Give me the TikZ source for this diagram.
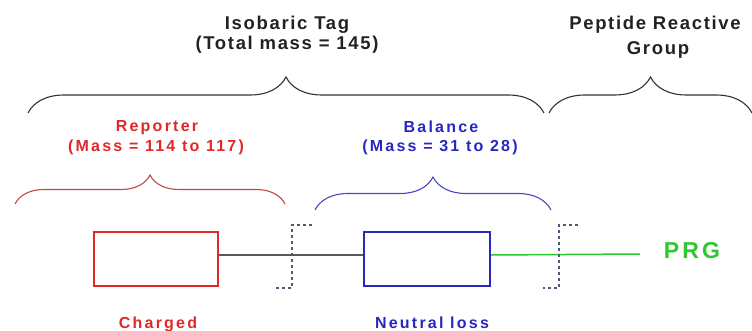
\documentclass[tikz,border=0pt]{standalone}
\usepackage{fontspec}
\setmainfont{Liberation Sans}
\newfontfamily\hdfont[LetterSpace=9]{Liberation Sans}
\newfontfamily\lblfont[LetterSpace=14]{Liberation Sans}
\usetikzlibrary{decorations.pathreplacing}
\definecolor{myred}{HTML}{E02828}
\definecolor{myblue}{HTML}{2828C0}
\definecolor{mygreen}{HTML}{2DC82D}
\definecolor{bracered}{HTML}{C04848}
\definecolor{braceblue}{HTML}{4848C0}
\definecolor{dashgray}{HTML}{505A70}
\definecolor{txtgray}{HTML}{222222}
\begin{document}
\begin{tikzpicture}[x=1pt,y=1pt,
  head/.style={font=\hdfont\bfseries\fontsize{18.5}{20}\selectfont, text=txtgray, inner sep=0},
  lbl/.style={font=\lblfont\bfseries\fontsize{16}{18}\selectfont, inner sep=0},
  cbrace/.style={decorate, decoration={brace, amplitude=#1}, line width=1.1pt},
  tagbox/.style={draw, line width=2pt, minimum height=54pt, inner sep=0, fill=white},
  cut/.style={draw=dashgray, line width=1.5pt, dash pattern=on 3pt off 3pt}]
\useasboundingbox (0,0) rectangle (752,330);

% headings
\node[head] (iso) at (287,305) {Isobaric Tag};
\node[head] (tot) at (287,285) {(Total mass = 145)};
\node[head] (pep) at (655,305) {Peptide Reactive};
\node[head] (grp) at (658,280) {Group};

% top braces
\draw[cbrace=36, black!80] (28,217) -- (544,217);
\draw[cbrace=36, black!80] (549,217) -- (752,217);

% sub labels
\node[lbl, text=myred] (rep) at (157,202) {Reporter};
\node[lbl, text=myred] (rmass) at (156,183) {(Mass = 114 to 117)};
\node[lbl, text=myblue] (bal) at (441,203) {Balance};
\node[lbl, text=myblue] (bmass) at (440,183) {(Mass = 31 to 28)};

% sub braces
\draw[cbrace=29, bracered] (15,126) -- (285,126);
\draw[cbrace=33, braceblue] (315,120) -- (551,120);

% boxes
\node[tagbox, draw=myred, minimum width=124pt] (rbox) at (156,71) {};
\node[tagbox, draw=myblue, minimum width=126pt] (bbox) at (427,71) {};

% PRG
\node[font=\lblfont\bfseries\fontsize{23}{25}\selectfont, text=mygreen, inner sep=0, anchor=base] (prg) at (692,72) {PRG};
\coordinate (gend) at (640,76);

% connectors
\draw[line width=1.5pt, black!65] ([yshift=4pt]rbox.east) -- ([yshift=4pt]bbox.west);
\draw[line width=1.5pt, mygreen] ([yshift=4pt]bbox.east) -- (gend);

% cleavage marks
\draw[cut] (312,105) -- (292,105) -- (292,42) -- (275,42);
\draw[cut] (578,105) -- (559,105) -- (559,42) -- (543,42);

% bottom labels
\node[lbl, text=myred, anchor=base] (chg) at (158,2) {Charged};
\node[lbl, text=myblue, anchor=base] (neu) at (432,2) {Neutral loss};
\end{tikzpicture}
\end{document}
